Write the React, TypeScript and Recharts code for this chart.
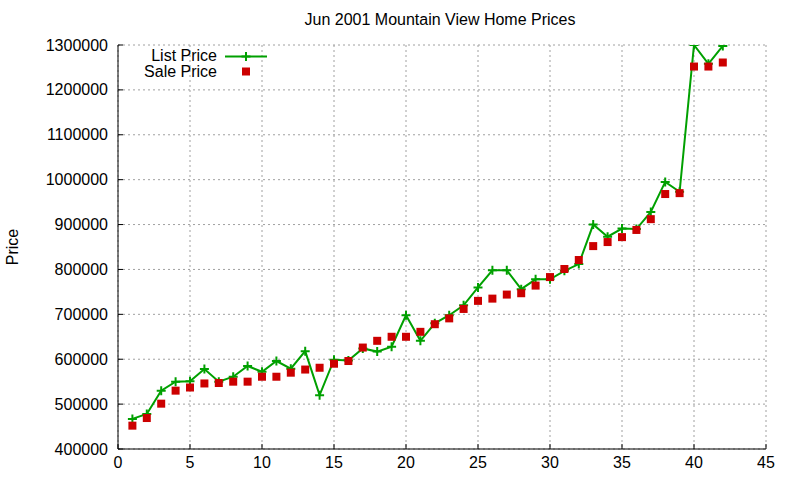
import React from 'react';
import { ComposedChart, Line, XAxis, YAxis, CartesianGrid, Legend } from 'recharts';

const months = [
  1, 2, 3, 4, 5, 6, 7, 8, 9, 10, 11, 12, 13, 14, 15, 16, 17, 18, 19, 20, 21,
  22, 23, 24, 25, 26, 27, 28, 29, 30, 31, 32, 33, 34, 35, 36, 37, 38, 39, 40, 41, 42,
];

const listPrice = [
  467000, 478000, 530000, 550000, 551000, 578000, 550000, 561000, 585000, 572000,
  596000, 579000, 618000, 520000, 599000, 597000, 624000, 617000, 628000, 698000,
  641000, 680000, 698000, 720000, 760000, 798000, 798000, 756000, 778000, 778000,
  797000, 812000, 900000, 873000, 891000, 890000, 928000, 995000, 973000, 1300000,
  1258000, 1298000,
];

const salePrice = [
  452000, 469000, 501000, 530000, 537000, 546000, 547000, 550000, 550000, 561000,
  561000, 570000, 577000, 581000, 590000, 596000, 626000, 641000, 650000, 650000,
  661000, 678000, 691000, 712000, 730000, 735000, 744000, 747000, 764000, 783000,
  801000, 821000, 852000, 861000, 872000, 888000, 912000, 968000, 970000, 1252000,
  1252000, 1261000,
];

const xTicks = [0, 5, 10, 15, 20, 25, 30, 35, 40, 45];
const yTicks = [400000, 500000, 600000, 700000, 800000, 900000, 1000000, 1100000, 1200000, 1300000];

const GREEN = '#00a000';
const RED = '#cc0000';
const FONT = '"Liberation Sans", Arial, sans-serif';
const TICK = 5;

const rows = months.map((m, i) => ({ m, list: listPrice[i], sale: salePrice[i] }));

function BottomTick({ x, y, payload }: any) {
  return (
    <g>
      <line x1={x} x2={x} y1={y} y2={y - TICK} stroke="#000" />
      <text x={x} y={y + 13} textAnchor="middle" dominantBaseline="central" fontSize={16} fill="#000" fontFamily={FONT}>
        {payload.value}
      </text>
    </g>
  );
}

function LeftTick({ x, y, payload }: any) {
  return (
    <g>
      <line x1={x} x2={x + TICK} y1={y} y2={y} stroke="#000" />
      <text x={x - 10} y={y} textAnchor="end" dominantBaseline="central" fontSize={16} fill="#000" fontFamily={FONT}>
        {payload.value}
      </text>
    </g>
  );
}

const TopTick = ({ x, y }: any) => <line x1={x} x2={x} y1={y} y2={y + TICK} stroke="#000" />;
const RightTick = ({ x, y }: any) => <line x1={x} x2={x - TICK} y1={y} y2={y} stroke="#000" />;

const PlusDot = ({ cx, cy, index }: any) => (
  <path key={`p${index}`} d={`M${cx - 4.5},${cy}h9M${cx},${cy - 4.5}v9`} stroke={GREEN} strokeWidth={2} fill="none" />
);

const SquareDot = ({ cx, cy, index }: any) => (
  <rect key={`s${index}`} x={cx - 4} y={cy - 4} width={8} height={8} fill={RED} />
);

function KeyBox() {
  return (
    <svg width={180} height={34} style={{ display: 'block' }}>
      <text x={117} y={9} textAnchor="end" dominantBaseline="central" fontSize={16} fontFamily={FONT} fill="#000">
        List Price
      </text>
      <line x1={125} x2={167} y1={10.5} y2={10.5} stroke={GREEN} strokeWidth={2} />
      <path d="M141.5,10.5h9M146,6v9" stroke={GREEN} strokeWidth={2} />
      <text x={117} y={25} textAnchor="end" dominantBaseline="central" fontSize={16} fontFamily={FONT} fill="#000">
        Sale Price
      </text>
      <rect x={142} y={21.5} width={8} height={8} fill={RED} />
    </svg>
  );
}

export default function App() {
  return (
    <div style={{ position: 'absolute', left: 0, top: 0, width: 800, height: 480, background: '#fff', fontFamily: FONT }}>
      <div style={{ position: 'absolute', left: 140, top: 10, width: 600, textAlign: 'center', fontSize: 16, lineHeight: '20px', color: '#000' }}>
        Jun 2001 Mountain View Home Prices
      </div>
      <ComposedChart width={800} height={480} data={rows} margin={{ top: 45, right: 34, bottom: 0, left: 0 }}>
        <CartesianGrid stroke="#a0a0a0" strokeDasharray="2 3" />
        <XAxis
          dataKey="m"
          type="number"
          domain={[0, 45]}
          ticks={xTicks}
          height={31}
          tickSize={0}
          tickMargin={0}
          tick={<BottomTick />}
          stroke="#000"
          allowDataOverflow
        />
        <XAxis
          xAxisId="top"
          orientation="top"
          type="number"
          domain={[0, 45]}
          ticks={xTicks}
          height={0}
          tickSize={0}
          tickMargin={0}
          tick={<TopTick />}
          stroke="#000"
          allowDataOverflow
        />
        <YAxis
          type="number"
          domain={[400000, 1300000]}
          ticks={yTicks}
          width={118}
          tickSize={0}
          tickMargin={0}
          tick={<LeftTick />}
          stroke="#000"
          allowDataOverflow
          label={({ viewBox }: any) => (
            <text
              x={12}
              y={viewBox.y + viewBox.height / 2}
              transform={`rotate(-90, 12, ${viewBox.y + viewBox.height / 2})`}
              textAnchor="middle"
              dominantBaseline="central"
              fontSize={16}
              fontFamily={FONT}
              fill="#000"
            >
              Price
            </text>
          )}
        />
        <YAxis
          yAxisId="right"
          orientation="right"
          type="number"
          domain={[400000, 1300000]}
          ticks={yTicks}
          width={0}
          tickSize={0}
          tickMargin={0}
          tick={<RightTick />}
          stroke="#000"
          allowDataOverflow
        />
        <Legend
          layout="vertical"
          align="center"
          verticalAlign="middle"
          wrapperStyle={{ left: 100, top: 46, width: 180, height: 34 }}
          content={() => <KeyBox />}
        />
        <Line
          type="linear"
          dataKey="list"
          name="List Price"
          stroke={GREEN}
          strokeWidth={2}
          dot={PlusDot}
          activeDot={false}
          isAnimationActive={false}
        />
        <Line
          type="linear"
          dataKey="sale"
          name="Sale Price"
          stroke="none"
          dot={SquareDot}
          activeDot={false}
          isAnimationActive={false}
        />
      </ComposedChart>
    </div>
  );
}
